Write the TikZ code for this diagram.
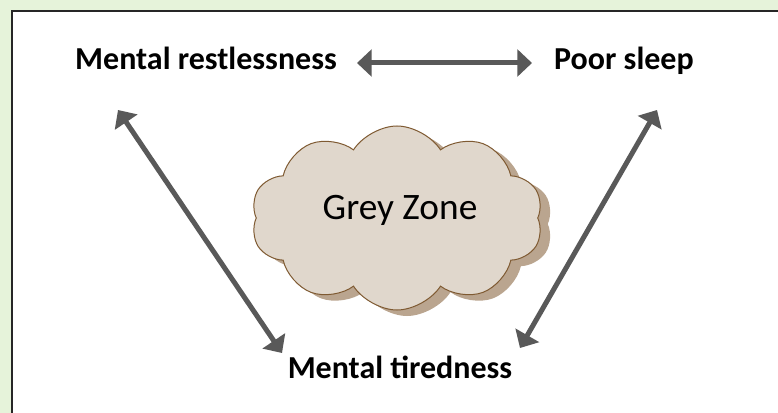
\documentclass[tikz,border=0pt]{standalone}
\usepackage{fontspec}
\setmainfont{Carlito}
\usetikzlibrary{arrows.meta, shapes.symbols, positioning}
\definecolor{frame_green}{HTML}{E6F3DA}
\definecolor{arrow_grey}{HTML}{595959}
\definecolor{cloud_fill}{HTML}{E0D7CC}
\definecolor{cloud_shade}{HTML}{BAA58F}
\definecolor{cloud_line}{HTML}{7F5A32}
\tikzset{
  symptom/.style={font=\fontsize{24}{29}\selectfont\bfseries,anchor=base,inner sep=0pt},
  zonetext/.style={font=\fontsize{28}{34}\selectfont,anchor=base,inner sep=0pt},
  zonecloud/.style={cloud,cloud puffs=10,cloud puff arc=115,aspect=1.6,minimum width=219pt,minimum height=138pt,inner sep=0pt},
  link/.style={arrow_grey,line width=3.75pt,{Triangle[length=11pt,width=20pt]}-{Triangle[length=11pt,width=20pt]}},
}

\begin{document}
\begin{tikzpicture}[x=0.75pt,y=-0.75pt]
    \useasboundingbox (0,0) rectangle (778,413);
    \clip (0,0) rectangle (778,413);
    \fill[frame_green] (0,0) rectangle (778,413);
    \draw[black!85,fill=white,line width=1.5pt] (11.5,11.5) rectangle (800,440);

    % symptoms
    \node[symptom] (restless) at (206,70) {Mental restlessness};
    \node[symptom] (sleep) at (624,70) {Poor sleep};
    \node[symptom] (tired) at (400,378) {Mental tiredness};

    % the cloud in the middle
    \node[zonecloud,fill=cloud_shade] (zoneshade) at (407,224) {};
    \node[zonecloud,fill=cloud_fill,draw=cloud_line,line width=0.75pt] (zone) at (397,218) {};
    \node[zonetext] (zonelabel) at (400,220) {Grey Zone};

    % arrow ends
    \coordinate (top_l) at (357,63);
    \coordinate (top_r) at (532,63);
    \coordinate (left_t) at (118,110);
    \coordinate (left_b) at (282,353);
    \coordinate (right_t) at (657,110);
    \coordinate (right_b) at (520,348);

    \draw[link] (top_l) -- (top_r);
    \draw[link] (left_t) -- (left_b);
    \draw[link] (right_b) -- (right_t);
\end{tikzpicture}
\end{document}
